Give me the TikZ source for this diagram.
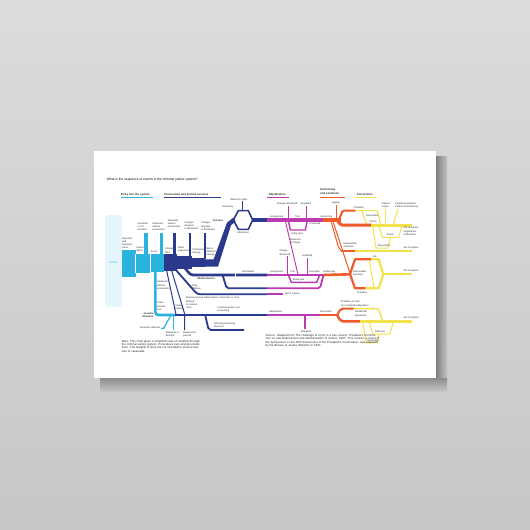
\documentclass[tikz,border=0pt]{standalone}
\usepackage{fontspec}
\setmainfont{Liberation Sans}
\definecolor{bgtop}{HTML}{DCDCDC}
\definecolor{bgbot}{HTML}{C7C7C7}
\definecolor{cEntry}{HTML}{2BB3E0}
\definecolor{cCrime}{HTML}{E4F5FB}
\definecolor{cPros}{HTML}{2B3A8C}
\definecolor{cAdj}{HTML}{BC3AAF}
\definecolor{cSent}{HTML}{EE5A2B}
\definecolor{cCorr}{HTML}{F2E34A}
\tikzset{
  lab/.style={font=\fontsize{2.4}{3.1}\selectfont, text=black!85, inner sep=0pt, anchor=west},
  labn/.style={lab, anchor=north west, align=left},
  bl/.style={lab, font=\fontsize{2.5}{3}\selectfont\bfseries},
  hdr/.style={font=\fontsize{2.8}{3.3}\selectfont\bfseries, text=black!85, inner sep=0pt, anchor=west},
  notes/.style={labn, font=\fontsize{2.9}{3.3}\selectfont}
}
\begin{document}
\begin{tikzpicture}[x=1pt,y=-1pt]
\useasboundingbox (0,0) rectangle (530,530);
% wall and canvas
\shade[top color=bgtop,bottom color=bgbot] (0,0) rectangle (530,530);
\shade[left color=black!50,right color=black!24] (436,156) rectangle (447,391);
\shade[top color=black!45,bottom color=black!23] (100,378) rectangle (447,391);
\fill[white] (94,151) rectangle (436,378);

\begin{scope}[shift={(90,150)},x=0.33333pt,y=-0.33333pt]
% title and headers
\node[lab, font=\fontsize{3.3}{4}\selectfont, text=black] (title) at (50,88) {What is the sequence of events in the criminal justice system?};
\node[hdr] (h1) at (93,133) {Entry into the system};
\draw[cEntry, line width=1.1pt] (93,143) -- (190,143);
\node[hdr] (h2) at (222,133) {Prosecution and pretrial services};
\draw[cPros, line width=1.1pt] (222,143) -- (393,143);
\node[hdr] (h3) at (535,133) {Adjudication};
\draw[cAdj, line width=1.1pt] (530,143) -- (598,143);
\node[hdr, anchor=north west, align=left] (h4) at (690,116) {Sentencing\\and sanctions};
\draw[cSent, line width=1.1pt] (690,143) -- (765,143);
\node[hdr] (h5) at (800,133) {Corrections};
\draw[cCorr, line width=1.1pt] (795,143) -- (858,143);

% crime and entry blocks
\fill[cCrime, rounded corners=3pt] (45,195) rectangle (95,470);
\node[lab, text=cEntry, font=\fontsize{3}{3.5}\selectfont, anchor=center] (crime) at (70,338) {Crime};
\fill[cEntry] (95,300) rectangle (137.5,380);
\fill[cEntry] (137,313) rectangle (181,370);
\fill[cEntry] (180,313) rectangle (223,365);
\fill[cEntry] (163,250) rectangle (173,314);
\fill[cEntry] (210,250) rectangle (220,314);
\draw[white, line width=0.4pt] (137,313) -- (137,370) (180,313) -- (180,365);
\fill[cPros] (222,312) rectangle (262,362);
\fill[cPros] (250,250) rectangle (258,313);
\fill[cPros] (262,318) rectangle (305,356);
\fill[cPros] (296,250) rectangle (302,319);
\fill[cPros] (305,325) rectangle (345,350);
\fill[cPros] (342,250) rectangle (347,326);
\fill[cPros] (345,328) -- (371,328) -- (411,218) -- (430,203) -- (437,214) -- (423,226) -- (384,350) -- (345,350) -- cycle;

\node[labn] (l1) at (96,262) {Reported\\and\\observed\\crime};
\node[labn] (l2) at (139,289) {Investi-\\gation};
\node[labn] (l3) at (182,303) {Arrest};
\node[labn] (l4) at (225,294) {Charges\\filed};
\node[labn] (l5) at (264,290) {Initial\\appearance};
\node[labn] (l6) at (307,295) {Preliminary\\hearing};
\node[labn] (l7) at (349,292) {Bail or\\detention\\hearing};
\node[labn] (d2) at (142,218) {Unsolved\\or not\\arrested};
\node[labn] (d3) at (187,218) {Released\\without\\prosecution};
\node[labn] (d4) at (233,208) {Released\\without\\prosecution};
\node[labn] (d5) at (283,214) {Charges\\dropped\\or dismissed};
\node[labn] (d6) at (333,216) {Charges\\dropped\\or dismissed};

% felonies
\node[bl] (fel) at (368,212) {Felonies};
\draw[cPros, line width=1.6pt, line join=round] (430,210) -- (445,182) -- (475,182) -- (488,210) -- (475,238) -- (445,238) -- cycle;
\draw[cPros, line width=0.8pt] (458,154) -- (458,182);
\node[lab] (gj) at (396,172) {Grand jury};
\node[lab] (ref) at (420,150) {Refusal to indict};
\node[lab] (inf) at (440,249) {Information};
\draw[cPros, line width=3.4pt] (486,210) -- (531,210);
\draw[cAdj, line width=3.4pt] (530,210) -- (702,210);
\fill[cSent] (700,205) rectangle (752,217);

\node[lab] (arr1) at (540,201) {Arraignment};
\node[lab] (tr1) at (615,201) {Trial};
\node[lab] (cd1) at (560,163) {Charges dismissed};
\node[lab] (acq1) at (632,163) {Acquitted};
\draw[cAdj, line width=1.1pt] (595,168) -- (595,210);
\draw[cAdj, line width=1.1pt] (650,168) -- (650,210);
\draw[cAdj, line width=1.4pt, line join=round] (595,212) -- (601,240) -- (646,240) -- (652,212);
\node[lab] (gp1) at (604,252) {Guilty plea};
\node[lab] (cv1) at (658,222) {Convicted};
\draw[cAdj, line width=0.9pt] (586,213) -- (624,374);
\node[labn] (red) at (600,266) {Reduction\\of charge};

% felony sentencing and corrections
\node[lab] (sen1) at (690,201) {Sentencing};
\node[lab] (app) at (726,160) {Appeal};
\draw[cSent, line width=1pt] (738,165) -- (738,206);
\draw[cSent, line width=2pt, rounded corners=1.5pt] (746,211) -- (758,182) -- (797,182);
\draw[cCorr, line width=1.1pt, rounded corners=1pt] (796,182) -- (862,182) -- (872,223);
\draw[cCorr, line width=1.1pt] (815,182) -- (830,223);
\node[lab] (prob1) at (790,172) {Probation};
\node[lab] (rev1) at (828,196) {Revocation};
\draw[cSent, line width=3pt, rounded corners=1.5pt] (744,214) -- (752,225) -- (845,225);
\draw[cCorr, line width=3pt] (843,225) -- (965,225);
\node[lab] (pris) at (838,215) {Prison};
\node[labn] (hab) at (874,157) {Habeas\\corpus};
\draw[cCorr, line width=1pt] (887,176) -- (887,222);
\node[lab] (cap) at (915,162) {Capital punishment};
\node[lab] (pard) at (915,171) {Pardon and clemency};
\draw[cCorr, line width=1pt] (925,176) -- (910,222);
\node[labn] (oos1) at (940,231) {Out of system\\(registration,\\notification)};
\draw[cCorr, line width=1pt, line join=round] (866,227) -- (878,262) -- (926,262) -- (936,227);
\node[lab] (parole) at (890,255) {Parole};
\draw[cCorr, line width=1pt, line join=round] (902,263) -- (893,294) -- (858,294) -- (848,227);
\node[lab] (rev2) at (864,287) {Revocation};

\node[labn] (int1) at (760,277) {Intermediate\\sanctions};
\draw[cSent, line width=2.2pt] (752,302) -- (797,302);
\draw[cCorr, line width=2.2pt] (795,302) -- (965,302);
\node[lab] (oos2) at (940,294) {Out of system};
\draw[cSent, line width=1pt, rounded corners=2pt] (724,217) -- (746,294) -- (754,302);
\draw[cSent, line width=1pt] (730,217) -- (780,370);

% jail
\draw[cSent, line width=2.2pt, line join=round] (845,328) -- (795,328) -- (780,372) -- (795,415) -- (828,415);
\draw[cCorr, line width=2.2pt, line join=round] (843,328) -- (866,328) -- (880,372) -- (866,415) -- (826,415);
\node[lab] (jail) at (848,319) {Jail};
\node[labn] (int2) at (788,361) {Intermediate\\sanctions};
\draw[cCorr, line width=1pt] (838,331) -- (852,413);
\node[lab] (prob2) at (800,428) {Probation};
\draw[cCorr, line width=2.2pt] (880,372) -- (965,372);
\node[lab] (oos3) at (940,364) {Out of system};

% misdemeanors
\draw[cPros, line width=2.6pt, rounded corners=2.5pt] (283,352) -- (302,375) -- (532,375);
\draw[white, line width=0.8pt] (437,370) -- (437,380);
\draw[cAdj, line width=2.6pt] (530,375) -- (702,375);
\draw[cSent, line width=2.6pt] (700,375) -- (782,373);
\node[bl] (mis) at (322,386) {Misdemeanors};
\node[lab] (inf2) at (456,366) {Information};
\node[lab] (arr2) at (540,366) {Arraignment};
\draw[cAdj, line width=1.1pt] (592,318) -- (592,375);
\draw[cAdj, line width=1.1pt] (652,324) -- (652,375);
\node[labn] (cd2) at (568,300) {Charge\\dismissed};
\node[lab] (acq2) at (636,317) {Acquitted};
\node[lab] (tr2) at (600,366) {Trial};
\draw[cAdj, line width=1.4pt, line join=round] (596,377) -- (604,397) -- (680,397) -- (688,377);
\node[lab] (gp2) at (608,389) {Guilty plea};
\node[lab] (cv2) at (656,366) {Convicted};
\node[lab] (sen2) at (699,366) {Sentencing};

% petty offenses and diversion
\draw[cPros, line width=1.8pt, rounded corners=2pt] (398,376) -- (410,415) -- (531,415);
\draw[cAdj, line width=1.8pt, rounded corners=2pt] (530,415) -- (690,415) -- (700,377);
\node[labn] (pet) at (305,405) {Petty\\offenses};
\draw[cPros, line width=1.8pt, rounded corners=3pt] (256,358) -- (322,433) -- (531,433);
\draw[cAdj, line width=1.8pt] (530,433) -- (580,433);
\node[lab] (oos4) at (584,433) {Out of system};
\node[lab] (div) at (287,443) {Diversion by law enforcement, prosecutor, or court};

% juveniles
\draw[cEntry, line width=2.6pt, rounded corners=3pt] (196,364) -- (196,495) -- (258,495);
\draw[cPros, line width=2.6pt] (256,495) -- (531,495);
\draw[cAdj, line width=2.6pt] (530,495) -- (692,495);
\draw[cSent, line width=2.6pt] (690,495) -- (746,495);
\node[bl, anchor=east, align=right] (juv) at (191,494) {Juvenile\\offenders};
\node[labn] (rwp) at (201,393) {Released\\without\\prosecution};
\node[labn] (pju) at (201,456) {Police\\juvenile\\unit};
\node[labn] (ih) at (256,464) {Intake\\hearing};
\node[labn] (wv) at (288,452) {Waived\\to criminal\\court};
\draw[cPros, line width=1pt] (230,362) -- (258,493);
\draw[cPros, line width=1pt] (245,362) -- (284,492) -- (284,540);
\node[labn] (rtp) at (279,545) {Released to\\parents};
\draw[cEntry, line width=1.2pt] (250,497) -- (250,540);
\node[labn] (rod) at (227,545) {Released or\\diverted};
\draw[cEntry, line width=1.2pt] (242,497) -- (221,535) -- (213,535);
\node[lab, anchor=east] (npr) at (211,535) {Nonpolice referrals};
\node[labn] (fjc) at (382,470) {Formal juvenile court\\processing};
\draw[cPros, line width=1.8pt, rounded corners=2pt] (346,497) -- (356,540) -- (462,540);
\node[labn] (ipd) at (372,518) {Informal processing\\diversion};
\node[lab] (adj3) at (537,486) {Adjudication};
\draw[cAdj, line width=1.1pt] (645,497) -- (645,536);
\node[lab] (rel) at (632,546) {Released};
\node[lab] (disp) at (690,486) {Disposition};
\draw[cSent, line width=2pt, rounded corners=2pt] (742,494) -- (752,476) -- (792,476);
\draw[cCorr, line width=1.4pt, rounded corners=1.5pt] (790,476) -- (866,476) -- (878,513);
\draw[cSent, line width=2.4pt, rounded corners=2pt] (742,496) -- (752,514) -- (812,514);
\draw[cCorr, line width=2.4pt] (810,514) -- (965,514);
\node[labn] (pnr) at (752,453) {Probation or other\\non-residential disposition};
\node[labn] (resp) at (795,483) {Residential\\placement};
\draw[cCorr, line width=1pt, line join=round] (838,516) -- (848,552) -- (900,552) -- (910,516);
\node[lab] (aft) at (855,545) {Aftercare};
\draw[cCorr, line width=1pt, line join=round] (868,553) -- (860,578) -- (828,578) -- (818,516);
\node[lab] (rev3) at (832,571) {Revocation};
\node[lab] (oos5) at (940,505) {Out of system};

% notes
\node[notes, text width=80pt] (note) at (95,570) {Note: This chart gives a simplified view of caseflow through the criminal justice system. Procedures vary among jurisdictions. The weights of lines are not intended to show actual size of caseloads.};
\node[notes, text width=114pt] (src) at (526,553) {Source: Adapted from The challenge of crime in a free society. President's Commission on Law Enforcement and Administration of Justice, 1967. This revision, a result of the Symposium on the 30th Anniversary of the President's Commission, was prepared by the Bureau of Justice Statistics in 1997.};
\end{scope}
\end{tikzpicture}
\end{document}
